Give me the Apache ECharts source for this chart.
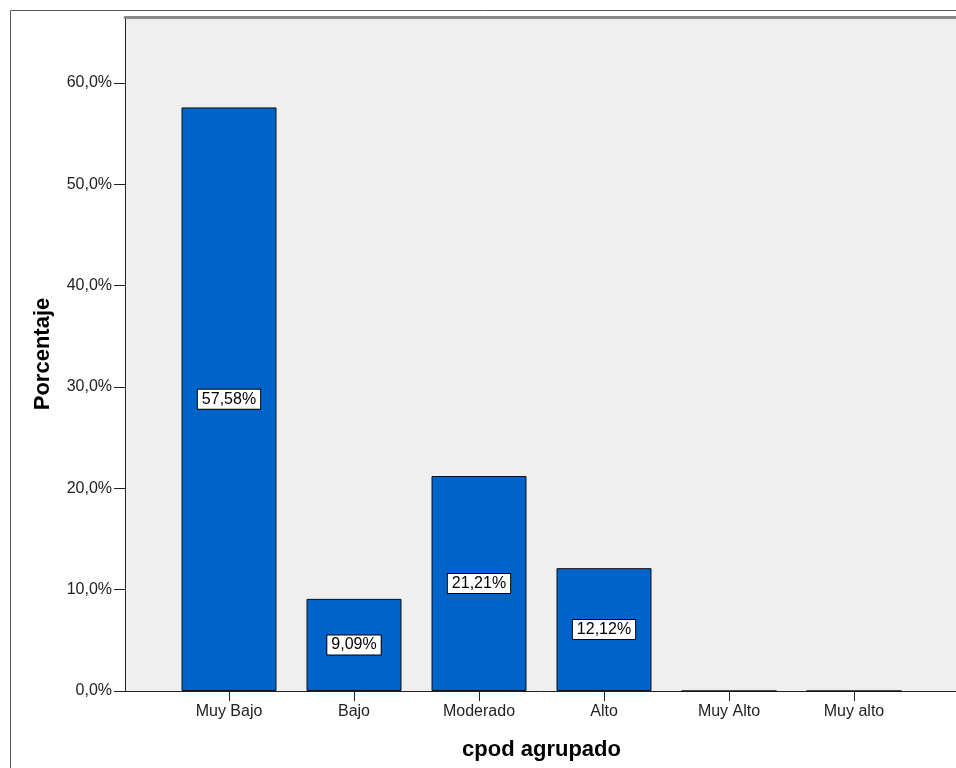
<!DOCTYPE html>
<html><head><meta charset="utf-8">
<script src="https://cdn.jsdelivr.net/npm/echarts@6/dist/echarts.min.js"></script>
<style>html,body{margin:0;padding:0;background:#fff}#c{width:956px;height:768px}</style>
</head><body><div id="c"></div>
<script>
const categories = ['Muy Bajo','Bajo','Moderado','Alto','Muy Alto','Muy alto'];
const values = [57.58, 9.09, 21.21, 12.12, 0, 0];
const yTicks = [0, 10, 20, 30, 40, 50, 60];
const yMax = 66.5;
const FONT = 'Liberation Sans, Arial, sans-serif';
const fmt = v => v.toFixed(1).replace('.', ',') + '%';
const fmt2 = v => v.toFixed(2).replace('.', ',') + '%';

const chart = echarts.init(document.getElementById('c'), null, {renderer:'canvas'});
chart.setOption({
  animation: false,
  backgroundColor: '#ffffff',
  grid: [
    {left: 125, top: 17, right: 0, bottom: 77, show: true, backgroundColor: '#efefef', borderWidth: 0},
    {left: 166.5, top: 17, width: 750, bottom: 77, show: false}
  ],
  xAxis: [
    {gridIndex: 0, type: 'value', min: 0, max: 1, position: 'bottom',
     axisLine: {show: true, lineStyle: {color: '#222', width: 1}}, axisTick: {show: false},
     axisLabel: {show: false}, splitLine: {show: false}},
    {gridIndex: 0, type: 'value', min: 0, max: 1, position: 'top',
     axisLine: {show: true, lineStyle: {color: '#888', width: 3}}, axisTick: {show: false},
     axisLabel: {show: false}, splitLine: {show: false}},
    {gridIndex: 1, type: 'category', data: categories, boundaryGap: true,
     axisLine: {show: false},
     axisTick: {show: true, alignWithLabel: true, length: 10, lineStyle: {color: '#222'}},
     axisLabel: {color: '#222', fontFamily: FONT, fontSize: 16, margin: 13},
     splitLine: {show: false},
     name: 'cpod agrupado', nameLocation: 'middle', nameGap: 48,
     nameTextStyle: {fontFamily: FONT, fontSize: 22, fontWeight: 'bold', color: '#000'}}
  ],
  yAxis: [
    {gridIndex: 0, type: 'value', min: 0, max: yMax, interval: 10,
     axisLine: {show: true, lineStyle: {color: '#222', width: 1}},
     axisTick: {show: true, length: 11, lineStyle: {color: '#222'}, customValues: yTicks},
     axisLabel: {color: '#222', fontFamily: FONT, fontSize: 16, margin: 13,
       customValues: yTicks, formatter: v => fmt(v)},
     splitLine: {show: false},
     name: 'Porcentaje', nameLocation: 'middle', nameGap: 71,
     nameTextStyle: {fontFamily: FONT, fontSize: 22, fontWeight: 'bold', color: '#000'}},
    {gridIndex: 1, type: 'value', min: 0, max: yMax, show: false}
  ],
  graphic: [
    {type: 'rect', shape: {x: 10.5, y: 10.5, width: 1200, height: 1200},
     style: {fill: 'none', stroke: '#555', lineWidth: 1}, z: 100, silent: true}
  ],
  series: [{
    type: 'bar', xAxisIndex: 2, yAxisIndex: 1,
    data: values.map(v => ({value: v, label: {show: v > 0}})),
    barWidth: 95,
    itemStyle: {color: '#0063c9', borderColor: '#111', borderWidth: 1},
    label: {show: true, position: 'inside', formatter: p => fmt2(p.value),
      color: '#000', fontFamily: FONT, fontSize: 16, backgroundColor: '#fff',
      borderColor: '#000', borderWidth: 1, padding: [2, 4, 1, 4]}
  }]
});
</script></body></html>
